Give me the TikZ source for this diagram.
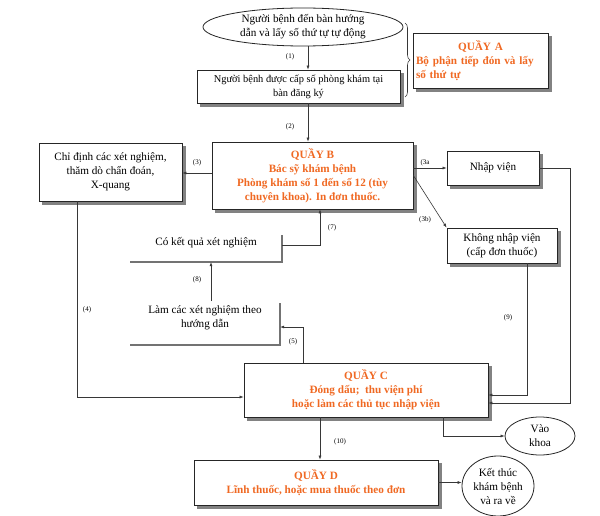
\documentclass[tikz,border=0pt]{standalone}
\usepackage{fontspec}
\setmainfont{Liberation Serif}
\usetikzlibrary{arrows.meta,shapes.geometric,decorations.pathreplacing,calc}
\definecolor{qorange}{RGB}{240,105,35}
\definecolor{lnc}{RGB}{55,55,55}
\definecolor{shadowc}{RGB}{130,130,130}
\pgfdeclarelayer{bg}
\pgfdeclarelayer{paper}
\pgfsetlayers{paper,bg,main}
\begin{document}
\begin{tikzpicture}[x=1pt,y=-1pt,
  font=\fontsize{11.2}{14}\selectfont,
  box/.style={draw=black!85,line width=0.8pt,fill=white,rectangle,align=center,inner sep=1pt},
  ell/.style={draw=black!85,line width=0.8pt,ellipse,fill=white,inner sep=0pt},
  qtext/.style={text=qorange,font=\fontsize{11.2}{14}\selectfont\bfseries},
  arr/.style={draw=lnc,line width=0.6pt,-{Latex[length=4pt,width=3pt]}},
  ln/.style={draw=lnc,line width=0.6pt},
  lab/.style={font=\fontsize{7}{8}\selectfont,inner sep=0pt},
  openline/.style={draw=black!55,line width=2.2pt},
  plain/.style={align=center,inner sep=0pt},
  shad/.style={fill=shadowc}
]
\begin{pgfonlayer}{paper}
\fill[white] (0,0) rectangle (600,516);
\end{pgfonlayer}
\useasboundingbox (0,0) rectangle (600,516);

% top ellipse
\node[ell,minimum width=200pt,minimum height=38pt] (e1) at (303,27) {};
\node[plain] (e1t) at (e1) {Người bệnh đến bàn hướng\\dẫn và lấy số thứ tự tự động};

% box 2
\node[box,minimum width=203pt,minimum height=33pt,font=\fontsize{10.4}{14}\selectfont] (b2) at (298.5,86.5)
  {Người bệnh được cấp số phòng khám tại\\bàn đăng ký};

% brace and QUAY A
\draw[ln,decorate,decoration={brace,amplitude=5pt}] (405,23) -- (405,97);
\node[box,qtext,minimum width=135pt,minimum height=55pt,text width=129pt,align=left] (qa) at (480.5,60.5)
  {\makebox[\linewidth][c]{QUẦY A}\\Bộ phận tiếp đón và lấy\\số thứ tự};

% QUAY B
\node[box,qtext,minimum width=201pt,minimum height=67pt] (qb) at (312.5,175.5)
  {QUẦY B\\Bác sỹ khám bệnh\\Phòng khám số 1 đến số 12 (tùy\\chuyên khoa). In đơn thuốc.};

% left box
\node[box,minimum width=143pt,minimum height=58pt] (lbox) at (110.5,172)
  {Chỉ định các xét nghiệm,\\thăm dò chẩn đoán,\\X-quang};

% Nhap vien
\node[box,minimum width=92pt,minimum height=34pt] (nv) at (493,168) {Nhập viện};
% Khong nhap vien
\node[box,minimum width=110pt,minimum height=35pt] (knv) at (502,245.5)
  {Không nhập viện\\(cấp đơn thuốc)};

% Co ket qua
\node[plain,minimum width=152pt,minimum height=38pt] (ck) at (206,243) {Có kết quả xét nghiệm};
\draw[openline] ($(ck.south east)+(0,-27)$) -- (ck.south east) -- (ck.south west);
% Lam cac xet nghiem
\node[plain,minimum width=150pt,minimum height=54pt] (lx) at (205,318)
  {Làm các xét nghiệm theo\\hướng dẫn};
\draw[openline] ($(lx.south east)+(0,-42)$) -- (lx.south east) -- (lx.south west);

% QUAY C
\node[box,qtext,minimum width=244pt,minimum height=54pt] (qc) at (366,390)
  {QUẦY C\\Đóng dấu;\ \ thu viện phí\\hoặc làm các thủ tục nhập viện};

% QUAY D
\node[box,qtext,minimum width=244pt,minimum height=45pt] (qd) at (316,482.5)
  {QUẦY D\\Lĩnh thuốc, hoặc mua thuốc theo đơn};

% ellipses
\node[ell,minimum width=70pt,minimum height=38pt] (vk) at (540,436) {};
\node[plain] (vkt) at (vk) {Vào\\khoa};
\node[ell,minimum width=72pt,minimum height=60pt] (kt) at (498,486) {};
\node[plain] (ktt) at (kt) {Kết thúc\\khám bệnh\\và ra về};

% shadows
\begin{pgfonlayer}{bg}
  \foreach \b in {b2,qa,qb,lbox,nv,knv,qc,qd}{
    \fill[shad] ($(\b.south west)+(3.5,3.5)$) rectangle ($(\b.north east)+(3.5,3.5)$);
  }
\end{pgfonlayer}

% coordinates
\coordinate (x308) at (308,0);
\coordinate (y173) at (0,173);
\coordinate (c4) at (77,397);
\coordinate (c5) at (303,327);
\coordinate (c7) at (320,245);
\coordinate (c8) at (211,301);
\coordinate (c9) at (527,395);
\coordinate (c11) at (570,403);
\coordinate (c10) at (320,0);
\coordinate (c12) at (443,0);

% connectors
\draw[arr] (x308 |- e1.south) -- (x308 |- b2.north);
\draw[arr] (x308 |- b2.south) -- (x308 |- qb.north);
\draw[arr] (qb.west |- y173) -- (lbox.east |- y173);
\draw[arr] (qb.east |- nv.west) -- (nv.west);
\draw[arr] (qb.east) -- (knv.north west);
\draw[arr] (lbox.south -| c4) -- (c4) -- (qc.west |- c4);
\draw[arr] (qc.north -| c5) -- (c5) -- (lx.east |- c5);
\draw[arr] (ck.east |- c7) -- (c7) -- (c7 |- qb.south);
\draw[arr] (c8) -- (c8 |- ck.south);
\draw[arr] (knv.south -| c9) -- (c9) -- (qc.east |- c9);
\draw[arr] (nv.east) -- (nv.east -| c11) -- (c11) -- (qc.east |- c11);
\draw[arr] (qc.south -| c10) -- (qd.north -| c10);
\draw[arr] (qc.south -| c12) |- (vk.west);
\draw[arr] (qd.east) -- (kt.west |- qd.east);

% labels
\node[lab] (l1) at (290,57) {(1)};
\node[lab] (l2) at (290,127) {(2)};
\node[lab] (l3) at (197,163) {(3)};
\node[lab] (l3a) at (425,163) {(3a};
\node[lab] (l3b) at (425,220) {(3b)};
\node[lab] (l4) at (87,310) {(4)};
\node[lab] (l5) at (293,342) {(5)};
\node[lab] (l7) at (332,228) {(7)};
\node[lab] (l8) at (197,280) {(8)};
\node[lab] (l9) at (508,318) {(9)};
\node[lab] (l10) at (340,442) {(10)};
\end{tikzpicture}
\end{document}
